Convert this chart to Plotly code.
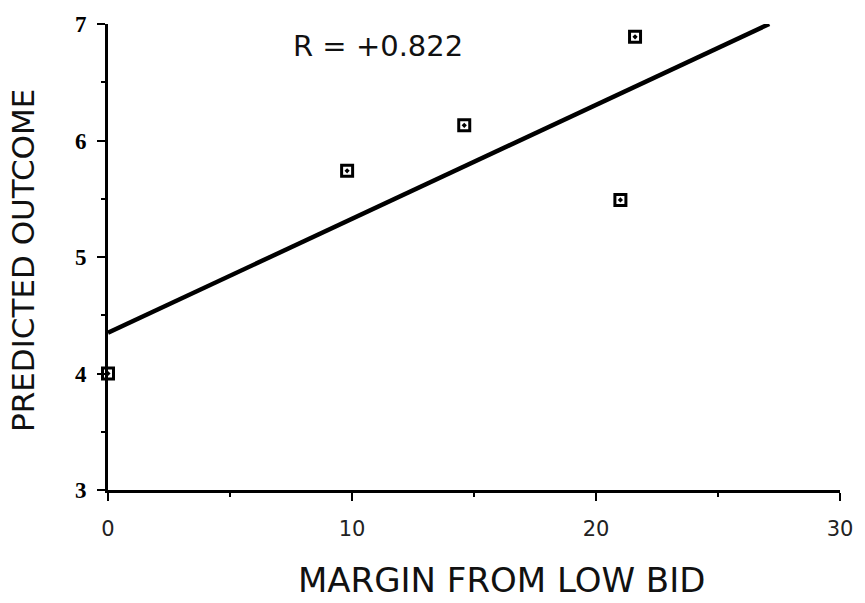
import plotly.graph_objects as go

# Data
margin_x = [0.0, 9.8, 14.6, 21.0, 21.6]
outcome_y = [4.0, 5.74, 6.13, 5.49, 6.89]
fit_x = [0.0, 27.1]
fit_y = [4.35, 7.0]
x_ticks = [0, 10, 20, 30]
y_ticks = [3, 4, 5, 6, 7]
r_label = "R = +0.822"

sans = "DejaVu Sans"

# plot area in pixels (for placing titles)
L, R_, T, B = 108, 845, 19, 490
W, H = 865, 603


def px_to_paper(px, py):
    return (px - L) / (R_ - L), (B - py) / (B - T)


fig = go.Figure()
fig.add_trace(go.Scatter(
    x=fit_x, y=fit_y, mode="lines",
    line=dict(color="black", width=4.5),
    showlegend=False, cliponaxis=False,
))
fig.add_trace(go.Scatter(
    x=margin_x, y=outcome_y, mode="markers",
    marker=dict(symbol="square-open-dot", size=11, color="black",
                line=dict(color="black", width=3)),
    showlegend=False, cliponaxis=False,
))

xt_x, xt_y = px_to_paper(504, 581)
yt_x, yt_y = px_to_paper(23, 258)

fig.update_layout(
    width=W, height=H,
    margin=dict(l=L, r=W - R_, t=T, b=H - B),
    plot_bgcolor="white", paper_bgcolor="white",
    xaxis=dict(
        range=[0, 30], tickvals=x_ticks, ticktext=[str(v) for v in x_ticks],
        showline=True, linecolor="black", linewidth=3,
        ticks="outside", ticklen=8, tickwidth=2, tickcolor="black",
        minor=dict(dtick=5, ticks="outside", ticklen=4, tickwidth=2, tickcolor="black"),
        showgrid=False, zeroline=False,
        tickfont=dict(family=sans, size=21, color="#222"),
        ticklabelstandoff=10,
    ),
    yaxis=dict(
        range=[3, 7], tickvals=y_ticks, ticktext=[str(v) for v in y_ticks],
        showline=True, linecolor="black", linewidth=3,
        ticks="outside", ticklen=8, tickwidth=2, tickcolor="black",
        minor=dict(dtick=0.5, ticks="outside", ticklen=4, tickwidth=2, tickcolor="black"),
        showgrid=False, zeroline=False,
        tickfont=dict(family="Liberation Serif", size=23, color="black", weight="bold"),
        ticklabelstandoff=6,
    ),
    annotations=[
        dict(text=r_label, x=11.07, y=6.81, xref="x", yref="y", showarrow=False,
             font=dict(family=sans, size=29, color="#111"), xanchor="center", yanchor="middle"),
        dict(text="MARGIN FROM LOW BID", x=xt_x, y=xt_y, xref="paper", yref="paper",
             showarrow=False, font=dict(family=sans, size=34, color="#111"),
             xanchor="center", yanchor="middle"),
        dict(text="PREDICTED OUTCOME", x=yt_x, y=yt_y, xref="paper", yref="paper",
             showarrow=False, textangle=-90, font=dict(family=sans, size=31, color="#111"),
             xanchor="center", yanchor="middle"),
    ],
)

fig.write_html("out.html", config={"displayModeBar": False},
               post_script="document.body.style.margin='0';")
